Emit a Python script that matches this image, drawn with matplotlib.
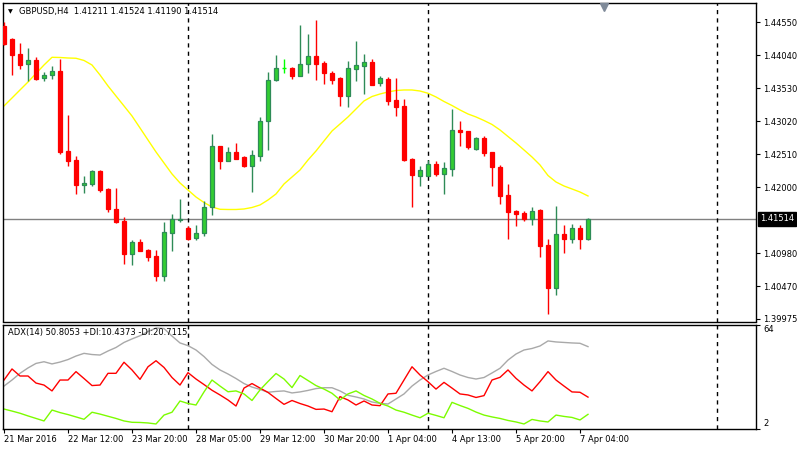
import numpy as np
import matplotlib
matplotlib.use("Agg")
import matplotlib.pyplot as plt

# GBPUSD H4 candles
opens = [1.44496, 1.44295, 1.44068, 1.43913, 1.43970, 1.43697, 1.43734, 1.43805, 1.42564, 1.42425,
         1.42043, 1.42059, 1.42255, 1.41977, 1.41663, 1.41482, 1.40977, 1.41162, 1.41038, 1.40941,
         1.40637, 1.41301, 1.41504, 1.41374, 1.41212, 1.41289, 1.41703, 1.42641, 1.42414, 1.42549,
         1.42471, 1.42337, 1.42491, 1.43023, 1.43657, 1.43842, 1.43847, 1.43728, 1.43904, 1.44032,
         1.43929, 1.43774, 1.43692, 1.43419, 1.43836, 1.43882, 1.43940, 1.43620, 1.43677, 1.43352,
         1.43260, 1.42440, 1.42185, 1.42182, 1.42363, 1.42213, 1.42290, 1.42889, 1.42873, 1.42600,
         1.42765, 1.42549, 1.42321, 1.41884, 1.41641, 1.41611, 1.41513, 1.41645, 1.41111, 1.40454,
         1.41281, 1.41209, 1.41374, 1.41211]
highs = [1.44562, 1.44315, 1.44238, 1.44151, 1.44021, 1.43790, 1.43878, 1.43986, 1.43120, 1.42487,
         1.42182, 1.42270, 1.42270, 1.41992, 1.41992, 1.41539, 1.41189, 1.41204, 1.41054, 1.41041,
         1.41467, 1.41590, 1.41822, 1.41410, 1.41420, 1.41791, 1.42827, 1.42645, 1.42626, 1.42688,
         1.42491, 1.42580, 1.43090, 1.43785, 1.44048, 1.43986, 1.43867, 1.44511, 1.44377, 1.44589,
         1.43960, 1.43805, 1.43708, 1.43955, 1.44264, 1.44068, 1.43986, 1.43723, 1.43703, 1.43692,
         1.43368, 1.42456, 1.42337, 1.42425, 1.42409, 1.42394, 1.43213, 1.43028, 1.42878, 1.42780,
         1.42796, 1.42553, 1.42348, 1.42054, 1.41657, 1.41637, 1.41703, 1.41668, 1.41204, 1.41714,
         1.41420, 1.41436, 1.41420, 1.41524]
lows = [1.44200, 1.43739, 1.43831, 1.43651, 1.43661, 1.43651, 1.43677, 1.42522, 1.42337, 1.41892,
        1.41920, 1.42028, 1.41935, 1.41614, 1.41447, 1.40825, 1.40807, 1.41020, 1.40869, 1.40560,
        1.40560, 1.41023, 1.41471, 1.41184, 1.41189, 1.41250, 1.41580, 1.42286, 1.42410, 1.42440,
        1.42309, 1.41935, 1.42414, 1.42584, 1.43650, 1.43765, 1.43681, 1.43720, 1.43774, 1.43661,
        1.43600, 1.43600, 1.43264, 1.43249, 1.43646, 1.43450, 1.43585, 1.43573, 1.43280, 1.43110,
        1.42414, 1.41703, 1.42028, 1.42175, 1.42182, 1.41904, 1.42182, 1.42641, 1.42600, 1.42584,
        1.42491, 1.42028, 1.41745, 1.41209, 1.41410, 1.41482, 1.41428, 1.40930, 1.40040, 1.40343,
        1.40992, 1.41147, 1.41054, 1.41190]
closes = [1.44213, 1.44048, 1.43893, 1.43970, 1.43677, 1.43739, 1.43800, 1.42544, 1.42414, 1.42043,
          1.42065, 1.42255, 1.41966, 1.41660, 1.41471, 1.40977, 1.41153, 1.41023, 1.40930, 1.40637,
          1.41312, 1.41508, 1.41510, 1.41204, 1.41297, 1.41699, 1.42641, 1.42414, 1.42544, 1.42445,
          1.42337, 1.42502, 1.43028, 1.43661, 1.43847, 1.43842, 1.43728, 1.43909, 1.44032, 1.43913,
          1.43774, 1.43666, 1.43419, 1.43847, 1.43893, 1.43940, 1.43589, 1.43692, 1.43341, 1.43249,
          1.42430, 1.42198, 1.42270, 1.42363, 1.42213, 1.42301, 1.42889, 1.42858, 1.42631, 1.42765,
          1.42538, 1.42317, 1.41873, 1.41626, 1.41595, 1.41518, 1.41637, 1.41100, 1.40454, 1.41277,
          1.41204, 1.41374, 1.41209, 1.41514]

# yellow moving average
ma = [1.43260, 1.43383, 1.43507, 1.43630, 1.43762, 1.43893, 1.44012, 1.44009, 1.44001, 1.43997,
      1.43963, 1.43893, 1.43739, 1.43569, 1.43414, 1.43260, 1.43105, 1.42920, 1.42734, 1.42549,
      1.42379, 1.42209, 1.42070, 1.41961, 1.41853, 1.41768, 1.41699, 1.41663, 1.41660, 1.41660,
      1.41668, 1.41691, 1.41730, 1.41807, 1.41900, 1.42054, 1.42162, 1.42270, 1.42425, 1.42564,
      1.42719, 1.42873, 1.42981, 1.43090, 1.43213, 1.43337, 1.43406, 1.43445, 1.43476, 1.43499,
      1.43507, 1.43507, 1.43491, 1.43456, 1.43399, 1.43329, 1.43267, 1.43198, 1.43136, 1.43090,
      1.43035, 1.42974, 1.42889, 1.42788, 1.42688, 1.42580, 1.42471, 1.42348, 1.42185, 1.42085,
      1.42023, 1.41977, 1.41930, 1.41869]

# ADX(14) sub window
adx = [27.3, 30.9, 34.9, 38.1, 40.8, 41.8, 40.5, 41.6, 43.1, 45.2,
       46.8, 46.1, 45.8, 48.2, 50.3, 53.3, 55.4, 57.3, 59.8, 61.9,
       61.6, 57.1, 53.0, 51.4, 48.8, 44.9, 40.2, 36.9, 34.5, 31.8,
       28.8, 26.7, 25.3, 23.6, 24.1, 24.4, 23.2, 23.8, 24.7, 25.8,
       26.3, 26.3, 24.4, 21.8, 20.8, 19.6, 17.8, 17.0, 16.6, 19.6,
       22.6, 27.3, 30.9, 33.9, 36.0, 37.9, 36.0, 33.9, 32.4, 31.5,
       32.4, 35.1, 37.9, 42.8, 46.4, 48.8, 49.7, 51.2, 54.2, 53.6,
       53.3, 53.0, 52.8, 50.81]
minus_di = [30.9, 37.5, 33.3, 33.3, 29.1, 27.9, 24.4, 30.9, 30.9, 35.9,
            31.8, 27.6, 27.9, 34.9, 34.9, 41.5, 36.9, 31.3, 38.8, 42.4,
            38.4, 32.4, 27.9, 35.3, 31.5, 28.2, 24.8, 22.0, 19.0, 15.4,
            26.1, 28.8, 26.1, 23.5, 19.9, 16.4, 18.7, 16.9, 15.4, 13.4,
            13.6, 12.0, 21.0, 19.0, 16.0, 18.4, 16.0, 15.6, 22.6, 23.0,
            30.9, 38.8, 33.9, 29.9, 25.5, 29.5, 26.1, 22.6, 22.0, 20.5,
            21.6, 30.9, 32.5, 36.9, 31.9, 27.9, 24.4, 29.9, 35.9, 30.9,
            27.3, 23.8, 23.6, 20.71]
plus_di = [13.6, 12.4, 11.1, 9.5, 8.0, 6.5, 13.0, 11.5, 10.3, 8.9,
           7.5, 11.7, 10.6, 9.3, 8.0, 6.5, 5.7, 5.6, 5.3, 4.7,
           10.0, 11.7, 18.4, 16.9, 16.0, 23.8, 30.9, 27.3, 23.9, 24.4,
           22.6, 18.7, 25.0, 30.0, 34.8, 31.5, 26.4, 33.6, 30.6, 27.6,
           25.5, 23.0, 19.0, 22.6, 24.4, 21.7, 19.6, 17.0, 15.4, 13.0,
           11.7, 10.0, 8.4, 11.1, 9.8, 8.4, 17.6, 15.7, 14.0, 11.8,
           10.0, 8.9, 8.0, 6.8, 5.9, 4.7, 7.4, 6.5, 5.9, 10.0,
           9.2, 8.6, 7.1, 10.44]

time_labels = ["21 Mar 2016", "22 Mar 12:00", "23 Mar 20:00", "28 Mar 05:00", "29 Mar 12:00",
               "30 Mar 20:00", "1 Apr 04:00", "4 Apr 13:00", "5 Apr 20:00", "7 Apr 04:00"]
time_label_bars = [0, 8, 16, 24, 32, 40, 48, 56, 64, 72]
price_ticks = [1.44550, 1.44040, 1.43530, 1.43020, 1.42510, 1.42000, 1.40980, 1.40470, 1.39975]
week_separators = [23, 53, 89.1]
last_price = 1.41514

W, H = 797, 449
plt.rcParams["font.family"] = ["DejaVu Sans"]
fig = plt.figure(figsize=(W / 100, H / 100), dpi=100)
fig.patch.set_facecolor("white")

ax = fig.add_axes([3 / W, (H - 321.5) / H, 753 / W, 318.5 / H])
ax2 = fig.add_axes([3 / W, (H - 428.5) / H, 753 / W, 104 / H])

x = np.arange(len(opens))
o = np.array(opens); c = np.array(closes)
hi = np.array(highs); lo = np.array(lows)
up = c > o
down = c < o
doji = c == o

bull_edge, bull_fill = "#2E8B57", "#32CD32"
bear = "#FF0000"

# wicks
ax.vlines(x[up], lo[up], hi[up], color=bull_edge, lw=1, zorder=3)
ax.vlines(x[down], lo[down], hi[down], color=bear, lw=1, zorder=3)
ax.vlines(x[doji], lo[doji], hi[doji], color="#00FF00", lw=1, zorder=3)
# bodies
ax.bar(x[up], c[up] - o[up], bottom=o[up], width=0.5, color=bull_fill,
       edgecolor=bull_edge, lw=0.9, zorder=4)
ax.bar(x[down], o[down] - c[down], bottom=c[down], width=0.5, color=bear,
       edgecolor=bear, lw=0.9, zorder=4)
ax.hlines(c[doji], x[doji] - 0.3, x[doji] + 0.3, color="#00FF00", lw=1, zorder=4)

ax.plot(x, ma, color="#FFFF00", lw=1, zorder=2)
ax.axhline(last_price, color="#808080", lw=1, zorder=1)

ax.set_xlim(-0.125, 94.0)
ax.set_ylim(1.39929, 1.44851)
ax.set_xticks([])
ax.yaxis.tick_right()
ax.set_yticks(price_ticks)
ax.set_yticklabels([f"{p:.5f}" for p in price_ticks])
ax.tick_params(axis="y", direction="out", length=3, width=0.8, labelsize=6, pad=2)

ax.annotate(f"{last_price:.5f}", xy=(1, last_price), xycoords=("axes fraction", "data"),
            xytext=(3, 0), textcoords="offset points", ha="left", va="center",
            fontsize=6, color="white",
            bbox=dict(boxstyle="square,pad=0.25", fc="black", ec="black"))

# chart shift marker, just under the top edge
ax.annotate("", xy=(75, 1), xycoords=("data", "axes fraction"))
ax.plot([75], [0.988], marker="v", color="#7F8A99", ms=5.5, clip_on=False, zorder=6,
        transform=ax.get_xaxis_transform())

# ADX window
ax2.plot(x, adx, color="#A9A9A9", lw=1)
ax2.plot(x, minus_di, color="#FF0000", lw=1)
ax2.plot(x, plus_di, color="#7CFC00", lw=1)
ax2.set_xlim(-0.125, 94.0)
ax2.set_ylim(2, 64)
ax2.yaxis.tick_right()
ax2.set_yticks([64, 2])
ax2.set_yticklabels(["64", "2"])
for lab, va in zip(ax2.get_yticklabels(), ["top", "bottom"]):
    lab.set_va(va)
ax2.tick_params(axis="y", direction="out", length=3, width=0.8, labelsize=6, pad=2)
ax2.set_xticks(time_label_bars)
ax2.set_xticklabels(time_labels, ha="left")
ax2.tick_params(axis="x", direction="out", length=3, width=0.8, labelsize=6, pad=2)

for a in (ax, ax2):
    for s in a.spines.values():
        s.set_color("black")
        s.set_linewidth(1)
    for sx in week_separators:
        a.axvline(sx, color="black", lw=1, ls=(0, (3, 3)), zorder=1)

fig.text(19 / W, 1 - 11.5 / H, "GBPUSD,H4  1.41211 1.41524 1.41190 1.41514",
         fontsize=6, va="center", ha="left")
fig.text(10.5 / W, 1 - 11.5 / H, "\u25BC", fontsize=4.5, va="center", ha="center")
fig.text(8 / W, 1 - 333 / H, "ADX(14) 50.8053 +DI:10.4373 -DI:20.7115",
         fontsize=6, va="center", ha="left")

fig.savefig("out.png", dpi=100)
